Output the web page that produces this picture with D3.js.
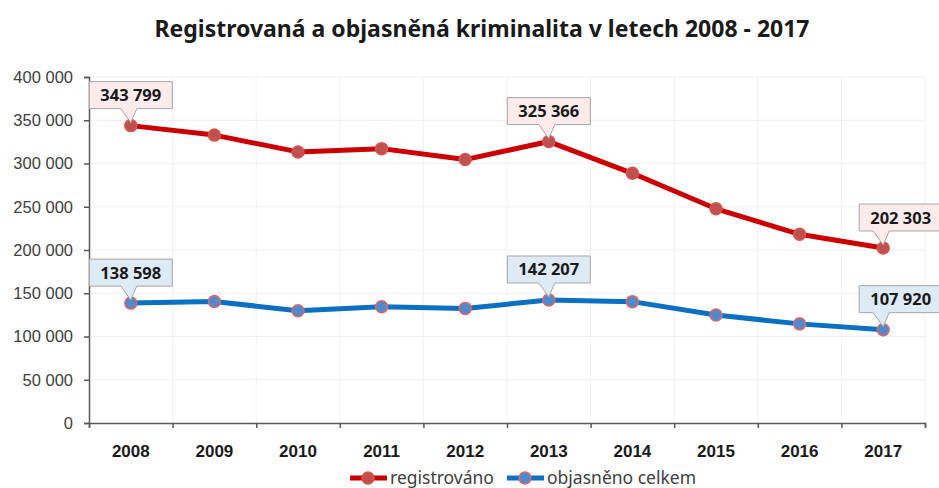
<!DOCTYPE html>
<html>
<head>
<meta charset="utf-8">
<script src="https://cdn.jsdelivr.net/npm/d3@7"></script>
<style>
  body { margin: 0; background: #fff; }
  svg { display: block; font-family: "Noto Sans", "Open Sans", sans-serif; }
  .grid line { stroke: #f0f0f0; stroke-width: 1; }
  .axis path, .axis line { stroke: #595959; stroke-width: 1.5; }
  .axis text { fill: #404040; }
</style>
</head>
<body>
<div class="viz"></div>
<script>
// data
var years = ["2008", "2009", "2010", "2011", "2012", "2013", "2014", "2015", "2016", "2017"];
var registrovano = [343799, 332829, 313387, 317177, 304528, 325366, 288660, 247628, 218162, 202303];
var objasneno = [138598, 140500, 129700, 134500, 132500, 142207, 140300, 124800, 114600, 107920];
var yTicks = [0, 50000, 100000, 150000, 200000, 250000, 300000, 350000, 400000];
var labelledIdx = [0, 5, 9];

var width = 939,
    height = 488,
    margin = {top: 77, right: 14, bottom: 65, left: 89};

var svg = d3.select('.viz').append('svg')
    .attr('width', width)
    .attr('height', height);

var cz = d3.formatLocale({thousands: "\u00a0", grouping: [3], decimal: ",", currency: ["", ""]});
var fmt = cz.format(",d");

var x = d3.scaleBand()
    .domain(years)
    .range([margin.left, width - margin.right])
    .padding(0);

var xEdge = d3.scaleLinear()
    .domain([0, years.length])
    .range([margin.left, width - margin.right]);

var y = d3.scaleLinear()
    .domain([0, 400000])
    .range([height - margin.bottom, margin.top]);

function cx(d, i) { return x(years[i]) + x.bandwidth() / 2; }

// title
svg.append("text")
    .attr("x", 482)
    .attr("y", 37)
    .attr("text-anchor", "middle")
    .style("font-size", "23px")
    .style("font-weight", "bold")
    .style("fill", "#1a1a1a")
    .text("Registrovaná a objasněná kriminalita v letech 2008 - 2017");

// gridlines
var grid = svg.append("g").attr("class", "grid");
grid.selectAll(".h").data(yTicks.slice(1)).enter().append("line")
    .attr("x1", margin.left).attr("x2", width - margin.right)
    .attr("y1", d => y(d)).attr("y2", d => y(d));
grid.selectAll(".v").data(d3.range(1, years.length + 1)).enter().append("line")
    .attr("x1", d => xEdge(d)).attr("x2", d => xEdge(d))
    .attr("y1", y(400000)).attr("y2", y(0));

// axes
svg.append("g")
    .attr("class", "axis")
    .attr("transform", "translate(" + margin.left + ",0)")
    .call(d3.axisLeft(y).tickValues(yTicks).tickSize(5).tickPadding(11).tickFormat(fmt))
    .call(g => g.selectAll("text").style("font-size", "16.5px"));

svg.append("g")
    .attr("class", "axis")
    .attr("transform", "translate(0," + y(0) + ")")
    .call(d3.axisBottom(xEdge).ticks(years.length).tickSize(5).tickSizeOuter(5).tickFormat(""));

svg.append("g")
    .attr("class", "axis")
    .attr("transform", "translate(0," + y(0) + ")")
    .call(d3.axisBottom(x).tickSize(0).tickPadding(22))
    .call(g => g.select(".domain").remove())
    .call(g => g.selectAll("text").style("font-size", "17px").style("font-weight", "bold").style("fill", "#1a1a1a"));

var series = [
    {name: "registrováno", values: registrovano, line: "#cc0000", fill: "#c0504d", stroke: "#d9534f", box: "#fdeaea"},
    {name: "objasněno celkem", values: objasneno, line: "#0a70c4", fill: "#5189cf", stroke: "#e06666", box: "#ddebf7"}
];

var line = d3.line()
    .x(cx)
    .y(d => y(d));

series.forEach(function(s) {
    svg.append("path")
        .datum(s.values)
        .attr("d", line)
        .attr("fill", "none")
        .attr("stroke", s.line)
        .attr("stroke-width", 5)
        .attr("stroke-linejoin", "round");

    svg.selectAll(null)
        .data(s.values)
        .enter().append("circle")
        .attr("cx", cx)
        .attr("cy", d => y(d))
        .attr("r", 6)
        .attr("fill", s.fill)
        .attr("stroke", s.stroke)
        .attr("stroke-width", 1.5);
});

// callouts
var boxW = 83, boxH = 27, gap = 17;
series.forEach(function(s) {
    labelledIdx.forEach(function(i) {
        var px = cx(null, i), py = y(s.values[i]);
        var bx = i === years.length - 1 ? px - 24 : px - boxW / 2;
        var by = py - gap - boxH;
        var bb = by + boxH;
        var path = "M" + bx + "," + by +
            "H" + (bx + boxW) + "V" + bb +
            "H" + (px + 6) + "L" + px + "," + (py - 3) +
            "L" + (px - 10) + "," + bb +
            "H" + bx + "Z";
        svg.append("path")
            .attr("d", path)
            .attr("fill", s.box)
            .attr("stroke", "#a6a6a6")
            .attr("stroke-width", 1);
        svg.append("text")
            .attr("x", bx + boxW / 2)
            .attr("y", by + boxH / 2 + 6)
            .attr("text-anchor", "middle")
            .style("font-size", "16.5px")
            .style("font-weight", "bold")
            .style("fill", "#1a1a1a")
            .text(fmt(s.values[i]));
    });
});

// legend
var legend = svg.append("g").attr("transform", "translate(0,478)");
var legX = [350, 507];
series.forEach(function(s, k) {
    var g = legend.append("g").attr("transform", "translate(" + legX[k] + ",0)");
    g.append("line")
        .attr("x1", 0).attr("x2", 37)
        .attr("stroke", s.line).attr("stroke-width", 5);
    g.append("circle")
        .attr("cx", 18).attr("r", 6)
        .attr("fill", s.fill).attr("stroke", s.stroke).attr("stroke-width", 1.5);
    g.append("text")
        .attr("x", 40).attr("y", 5.5)
        .style("font-size", "17.5px")
        .style("fill", "#404040")
        .text(s.name);
});
</script>
</body>
</html>
